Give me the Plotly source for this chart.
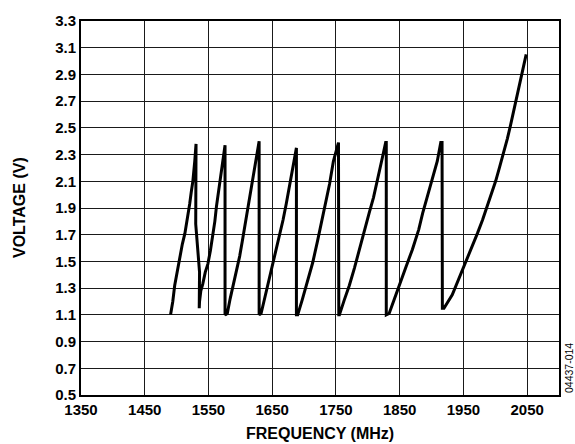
import plotly.graph_objects as go

# Ramps (frequency in MHz, voltage in V)
freq = [
    1490.5, 1494, 1497, 1501, 1505, 1509, 1513, 1517, 1520.5, 1523, 1525.5, 1528.5, 1530.5,
    1530, 1532, 1535, 1536, 1535.5,
    1536, 1538, 1541, 1545, 1549, 1553, 1557, 1560, 1562.5, 1565, 1567.5, 1571.5, 1575.5,
    1576, 1576,
    1579.5, 1584, 1589, 1594, 1599, 1603, 1607, 1612, 1617, 1622, 1626, 1629,
    1629.5, 1629.5,
    1632.5, 1637, 1643, 1651, 1656, 1661.5, 1667, 1672, 1676, 1681, 1685, 1687.5,
    1688, 1688,
    1690, 1697, 1705, 1713.5, 1721, 1729, 1735, 1740, 1746, 1750, 1753.5,
    1754, 1754.5,
    1755.5, 1763, 1771, 1779, 1786.5, 1794, 1802, 1809, 1815, 1823, 1828,
    1829, 1829,
    1833.5, 1841, 1849, 1860, 1870, 1880, 1886, 1894, 1901, 1909, 1914.5,
    1916.5, 1917,
    1919.5, 1932.5, 1943, 1953.5, 1963, 1972, 1980, 1987.5, 1994, 2000.5, 2007, 2013.5,
    2019, 2024, 2029, 2034.5, 2039, 2042, 2046, 2048.5,
]
volt = [
    1.10, 1.20, 1.32, 1.43, 1.54, 1.63, 1.71, 1.82, 1.93, 2.02, 2.10, 2.25, 2.38,
    1.78, 1.66, 1.54, 1.42, 1.15,
    1.20, 1.28, 1.33, 1.42, 1.48, 1.58, 1.69, 1.80, 1.91, 2.00, 2.10, 2.25, 2.37,
    2.37, 1.10,
    1.11, 1.22, 1.32, 1.43, 1.54, 1.65, 1.76, 1.91, 2.05, 2.20, 2.30, 2.40,
    2.40, 1.10,
    1.11, 1.20, 1.32, 1.49, 1.59, 1.69, 1.81, 1.93, 2.04, 2.15, 2.28, 2.35,
    2.35, 1.10,
    1.10, 1.21, 1.34, 1.49, 1.65, 1.83, 1.96, 2.08, 2.25, 2.33, 2.39,
    2.39, 1.10,
    1.10, 1.21, 1.32, 1.45, 1.59, 1.72, 1.86, 1.98, 2.10, 2.28, 2.39,
    2.39, 1.10,
    1.11, 1.21, 1.32, 1.46, 1.59, 1.74, 1.86, 2.00, 2.13, 2.25, 2.39,
    2.39, 1.15,
    1.15, 1.25, 1.37, 1.49, 1.60, 1.71, 1.81, 1.91, 2.00, 2.10, 2.21, 2.32,
    2.42, 2.52, 2.63, 2.74, 2.84, 2.91, 2.99, 3.05,
]

x_ticks = [1350, 1450, 1550, 1650, 1750, 1850, 1950, 2050]
y_ticks = [0.5, 0.7, 0.9, 1.1, 1.3, 1.5, 1.7, 1.9, 2.1, 2.3, 2.5, 2.7, 2.9, 3.1, 3.3]

FONT = "Liberation Sans, Arial, Helvetica, sans-serif"

fig = go.Figure()
fig.add_trace(go.Scatter(
    x=freq, y=volt, mode="lines",
    line=dict(color="#000000", width=3),
    showlegend=False, hoverinfo="skip",
))

fig.update_layout(
    width=575, height=444,
    margin=dict(l=81, r=16, t=14, b=49),
    paper_bgcolor="white", plot_bgcolor="white",
    font=dict(family=FONT, color="#000000"),
    xaxis=dict(
        range=[1350, 2100], tickvals=x_ticks, ticktext=[str(v) for v in x_ticks],
        showgrid=True, gridcolor="#1a1a1a", gridwidth=1,
        showline=True, linecolor="#000000", linewidth=2, mirror=True,
        ticks="", zeroline=False,
        tickfont=dict(family=FONT, size=15, weight="bold", color="#000000"),
    ),
    yaxis=dict(
        range=[0.5, 3.3], tickvals=y_ticks, ticktext=[f"{v:.1f}" for v in y_ticks],
        showgrid=True, gridcolor="#1a1a1a", gridwidth=1,
        showline=True, linecolor="#000000", linewidth=2, mirror=True,
        ticks="", zeroline=False,
        tickfont=dict(family=FONT, size=15, weight="bold", color="#000000"),
    ),
    annotations=[
        dict(text="FREQUENCY (MHz)", xref="paper", yref="paper", x=0.5, y=0,
             xanchor="center", yanchor="middle", showarrow=False, yshift=-38,
             font=dict(family=FONT, size=16, weight="bold", color="#000000")),
        dict(text="VOLTAGE (V)", xref="paper", yref="paper", x=0, y=0.5,
             xanchor="center", yanchor="middle", showarrow=False, textangle=-90,
             xshift=-62,
             font=dict(family=FONT, size=16, weight="bold", color="#000000")),
        dict(text="04437-014", xref="paper", yref="paper", x=1, y=0,
             xanchor="center", yanchor="bottom", showarrow=False, textangle=-90,
             xshift=10, yshift=0,
             font=dict(family=FONT, size=10.5, color="#000000")),
    ],
)

fig.write_html("out.html", config={"displayModeBar": False},
               post_script="document.body.style.margin='0px';")
